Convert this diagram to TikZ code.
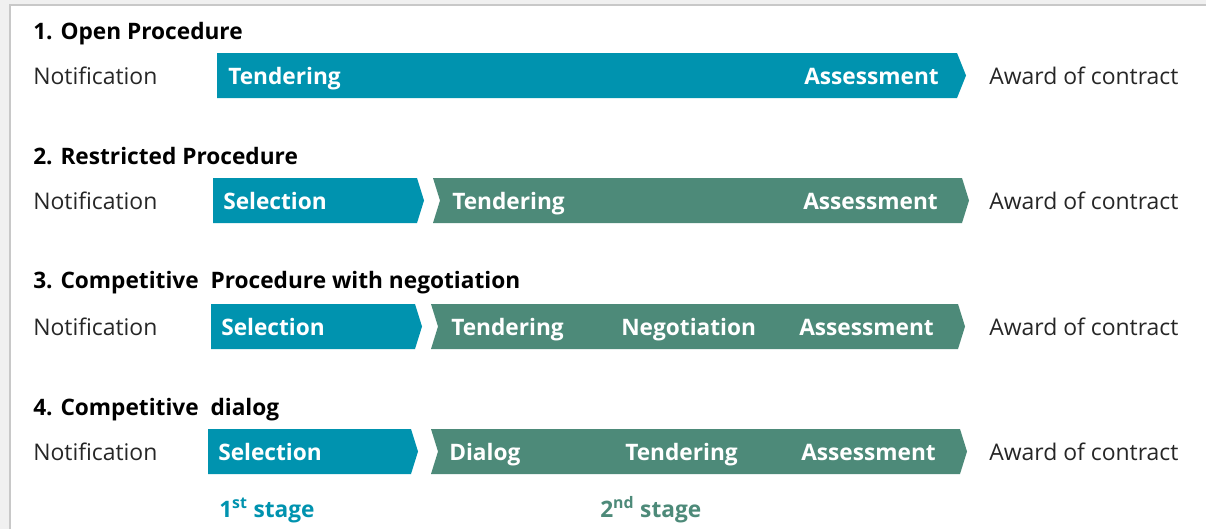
\documentclass[tikz,border=0pt]{standalone}
\usepackage{fontspec}
\setmainfont{Open Sans}
\definecolor{pblue}{RGB}{0,147,175}
\definecolor{pgreen}{RGB}{77,138,121}
\definecolor{frameline}{RGB}{200,200,200}
\definecolor{framefill}{RGB}{240,240,240}
\begin{document}
\begin{tikzpicture}[x=0.75pt,y=-0.75pt,
  title/.style={anchor=base west,font=\fontsize{17}{19}\selectfont\bfseries,text=black,inner sep=0pt},
  plain/.style={anchor=base west,font=\fontsize{17.2}{19}\selectfont,text=black!85,inner sep=0pt},
  barL/.style={anchor=base west,font=\fontsize{17}{19}\selectfont\bfseries,text=white,inner sep=0pt},
  barR/.style={anchor=base east,font=\fontsize{17}{19}\selectfont\bfseries,text=white,inner sep=0pt},
  stage/.style={anchor=base west,font=\fontsize{17}{19}\selectfont\bfseries,inner sep=0pt}]
\useasboundingbox (0,0) rectangle (1206,529);
\fill[framefill] (0,0) rectangle (1206,529);
\fill[white] (10,6) rectangle (1206,529);
\draw[frameline,line width=1.5pt] (9.5,529) -- (9.5,5) -- (1206,5);

% Row 1
\node[title] (t1) at (33,39) {1. Open Procedure};
\node[plain] (n1) at (33,84) {Notification};
\fill[pblue] (217,53) -- (957,53) -- (966,75.5) -- (957,98) -- (217,98) -- cycle;
\node[barL] (r1a) at (228,84) {Tendering};
\node[barR] (r1b) at (939,84) {Assessment};
\node[plain] (a1) at (989,84) {Award of contract};

% Row 2
\node[title] (t2) at (33,164) {2. Restricted Procedure};
\node[plain] (n2) at (33,209) {Notification};
\fill[pblue] (213,178) -- (417,178) -- (424,200.5) -- (417,223) -- (213,223) -- cycle;
\fill[pgreen] (433,178) -- (962,178) -- (969,200.5) -- (962,223) -- (433,223) -- (440,200.5) -- cycle;
\node[barL] (r2a) at (223,209) {Selection};
\node[barL] (r2b) at (452,209) {Tendering};
\node[barR] (r2c) at (938,209) {Assessment};
\node[plain] (a2) at (989,209) {Award of contract};

% Row 3
\node[title] (t3) at (33,288) {3. Competitive\ \ Procedure\ with negotiation};
\node[plain] (n3) at (33,335) {Notification};
\fill[pblue] (211,304) -- (415,304) -- (422,326.5) -- (415,349) -- (211,349) -- cycle;
\fill[pgreen] (431,304) -- (958,304) -- (965,326.5) -- (958,349) -- (431,349) -- (438,326.5) -- cycle;
\node[barL] (r3a) at (221,335) {Selection};
\node[barL] (r3b) at (451,335) {Tendering};
\node[barL] (r3c) at (621,335) {Negotiation};
\node[barR] (r3d) at (934,335) {Assessment};
\node[plain] (a3) at (989,335) {Award of contract};

% Row 4
\node[title] (t4) at (33,415) {4. Competitive\ \ dialog};
\node[plain] (n4) at (33,460) {Notification};
\fill[pblue] (208,429) -- (411,429) -- (418,451.5) -- (411,474) -- (208,474) -- cycle;
\fill[pgreen] (431,429) -- (960,429) -- (967,451.5) -- (960,474) -- (431,474) -- (438,451.5) -- cycle;
\node[barL] (r4a) at (218,460) {Selection};
\node[barL] (r4b) at (449,460) {Dialog};
\node[barL] (r4c) at (625,460) {Tendering};
\node[barR] (r4d) at (936,460) {Assessment};
\node[plain] (a4) at (989,460) {Award of contract};

% Stages
\node[stage,text=pblue] (s1) at (219,517) {1\textsuperscript{st} stage};
\node[stage,text=pgreen] (s2) at (600,517) {2\textsuperscript{nd} stage};
\end{tikzpicture}
\end{document}
